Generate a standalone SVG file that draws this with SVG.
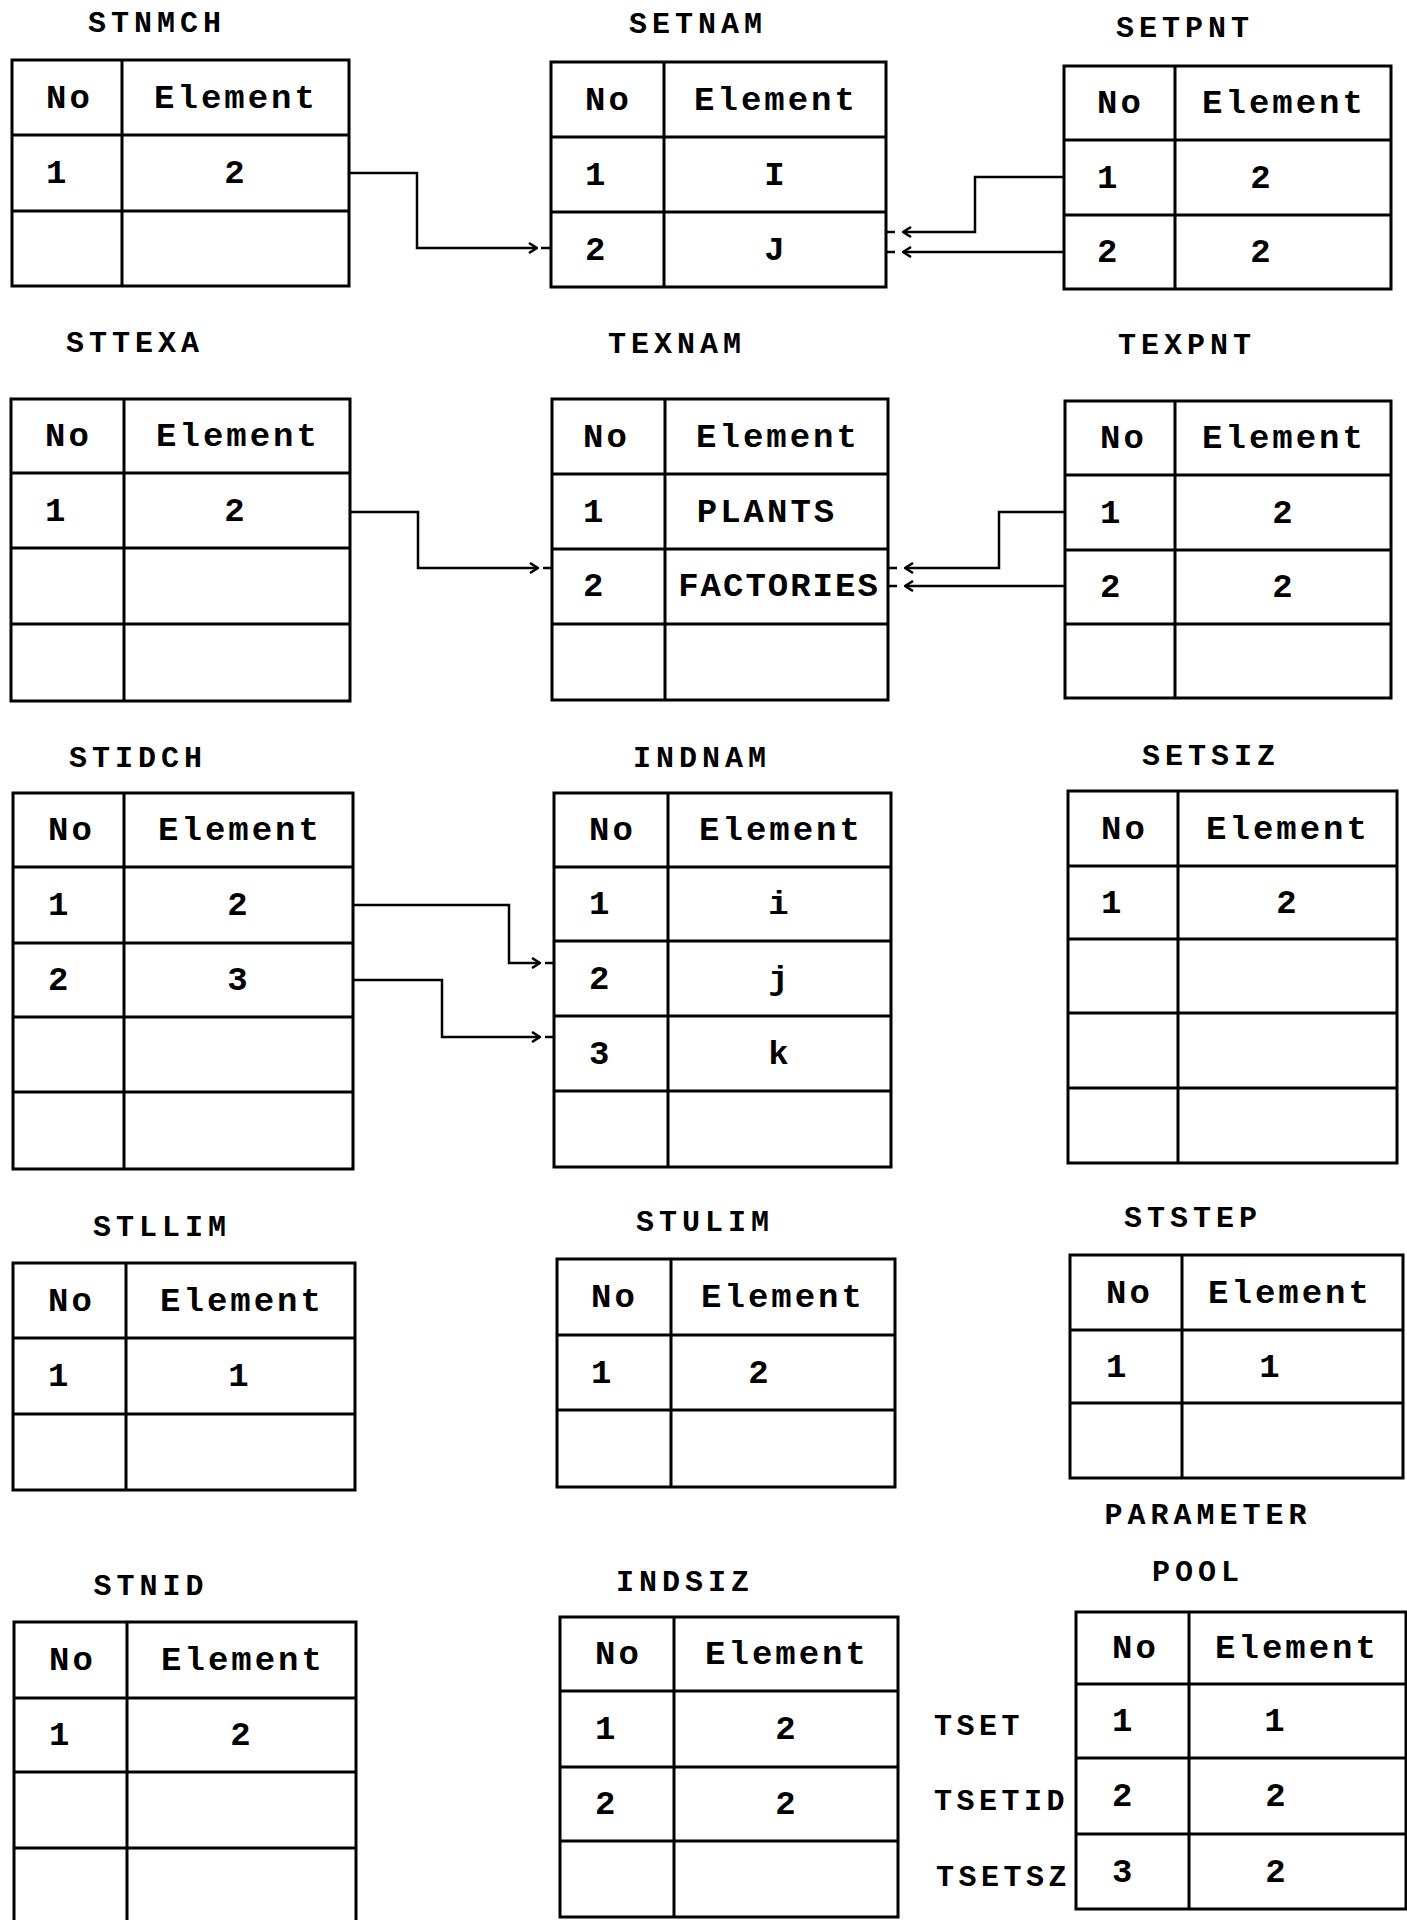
<svg xmlns="http://www.w3.org/2000/svg" width="1407" height="1920" viewBox="0 0 1407 1920">
<style>
.tb{fill:none;stroke:#000;stroke-width:3}
.t{font-family:"Liberation Mono","DejaVu Sans Mono",monospace;font-weight:bold;font-size:34px;letter-spacing:3px;fill:#000}
.m{text-anchor:middle}
.ttl{font-family:"Liberation Mono","DejaVu Sans Mono",monospace;font-weight:bold;font-size:30px;letter-spacing:5px;fill:#000;text-anchor:middle}
.cn{fill:none;stroke:#000;stroke-width:2.5}
</style>
<defs>
<marker id="ah" viewBox="0 0 10 12" refX="9" refY="6" markerWidth="10" markerHeight="12" markerUnits="userSpaceOnUse" orient="auto">
<path d="M1,1 L9,6 L1,11" fill="none" stroke="#000" stroke-width="2.5"/>
</marker>
</defs>
<rect width="1407" height="1920" fill="#fff"/>

<g id="STNMCH">
<text class="ttl" x="157" y="32">STNMCH</text>
<path class="tb" d="M12,60 H349 V286 H12 Z M122,60 V286 M12,135 H349 M12,211 H349"/>
<text class="t" x="46" y="108">No</text><text class="t m" x="236" y="108">Element</text>
<text class="t" x="46" y="183">1</text><text class="t m" x="236" y="183">2</text>
</g>

<g id="SETNAM">
<text class="ttl" x="698" y="33">SETNAM</text>
<path class="tb" d="M551,62 H886 V287 H551 Z M664,62 V287 M551,137 H886 M551,212 H886"/>
<text class="t" x="585" y="110">No</text><text class="t m" x="776" y="110">Element</text>
<text class="t" x="585" y="185">1</text><text class="t m" x="776" y="185">I</text>
<text class="t" x="585" y="260">2</text><text class="t m" x="776" y="260">J</text>
</g>

<g id="SETPNT">
<text class="ttl" x="1185" y="37">SETPNT</text>
<path class="tb" d="M1064,66 H1391 V289 H1064 Z M1175,66 V289 M1064,140 H1391 M1064,215 H1391"/>
<text class="t" x="1097" y="113">No</text><text class="t m" x="1284" y="113">Element</text>
<text class="t" x="1097" y="188">1</text><text class="t m" x="1262" y="188">2</text>
<text class="t" x="1097" y="262">2</text><text class="t m" x="1262" y="262">2</text>
</g>

<g id="STTEXA">
<text class="ttl" x="135" y="352">STTEXA</text>
<path class="tb" d="M11,399 H350 V701 H11 Z M124,399 V701 M11,473 H350 M11,548 H350 M11,624 H350"/>
<text class="t" x="45" y="446">No</text><text class="t m" x="238" y="446">Element</text>
<text class="t" x="45" y="521">1</text><text class="t m" x="236" y="521">2</text>
</g>

<g id="TEXNAM">
<text class="ttl" x="677" y="353">TEXNAM</text>
<path class="tb" d="M552,399 H888 V700 H552 Z M665,399 V700 M552,474 H888 M552,549 H888 M552,624 H888"/>
<text class="t" x="583" y="447">No</text><text class="t m" x="778" y="447">Element</text>
<text class="t" x="583" y="522">1</text><text class="t m" x="767" y="522">PLANTS</text>
<text class="t" x="583" y="596">2</text><text class="t m" x="779" y="596" style="letter-spacing:2px">FACTORIES</text>
</g>

<g id="TEXPNT">
<text class="ttl" x="1187" y="354">TEXPNT</text>
<path class="tb" d="M1065,401 H1391 V698 H1065 Z M1175,401 V698 M1065,475 H1391 M1065,550 H1391 M1065,624 H1391"/>
<text class="t" x="1100" y="448">No</text><text class="t m" x="1284" y="448">Element</text>
<text class="t" x="1100" y="523">1</text><text class="t m" x="1284" y="523">2</text>
<text class="t" x="1100" y="597">2</text><text class="t m" x="1284" y="597">2</text>
</g>

<g id="STIDCH">
<text class="ttl" x="138" y="767">STIDCH</text>
<path class="tb" d="M13,793 H353 V1169 H13 Z M124,793 V1169 M13,867 H353 M13,943 H353 M13,1017 H353 M13,1092 H353"/>
<text class="t" x="48" y="840">No</text><text class="t m" x="240" y="840">Element</text>
<text class="t" x="48" y="915">1</text><text class="t m" x="239" y="915">2</text>
<text class="t" x="48" y="990">2</text><text class="t m" x="239" y="990">3</text>
</g>

<g id="INDNAM">
<text class="ttl" x="702" y="767">INDNAM</text>
<path class="tb" d="M554,793 H891 V1167 H554 Z M668,793 V1167 M554,867 H891 M554,941 H891 M554,1016 H891 M554,1091 H891"/>
<text class="t" x="589" y="840">No</text><text class="t m" x="781" y="840">Element</text>
<text class="t" x="589" y="914">1</text><text class="t m" x="780" y="914">i</text>
<text class="t" x="589" y="989">2</text><text class="t m" x="780" y="989">j</text>
<text class="t" x="589" y="1064">3</text><text class="t m" x="780" y="1064">k</text>
</g>

<g id="SETSIZ">
<text class="ttl" x="1211" y="765">SETSIZ</text>
<path class="tb" d="M1068,791 H1397 V1163 H1068 Z M1178,791 V1163 M1068,866 H1397 M1068,939 H1397 M1068,1013 H1397 M1068,1088 H1397"/>
<text class="t" x="1101" y="839">No</text><text class="t m" x="1288" y="839">Element</text>
<text class="t" x="1101" y="913">1</text><text class="t m" x="1288" y="913">2</text>
</g>

<g id="STLLIM">
<text class="ttl" x="162" y="1236">STLLIM</text>
<path class="tb" d="M13,1263 H355 V1490 H13 Z M126,1263 V1490 M13,1338 H355 M13,1414 H355"/>
<text class="t" x="48" y="1311">No</text><text class="t m" x="242" y="1311">Element</text>
<text class="t" x="48" y="1386">1</text><text class="t m" x="240" y="1386">1</text>
</g>

<g id="STULIM">
<text class="ttl" x="705" y="1231">STULIM</text>
<path class="tb" d="M557,1259 H895 V1487 H557 Z M671,1259 V1487 M557,1335 H895 M557,1410 H895"/>
<text class="t" x="591" y="1307">No</text><text class="t m" x="783" y="1307">Element</text>
<text class="t" x="591" y="1383">1</text><text class="t m" x="760" y="1383">2</text>
</g>

<g id="STSTEP">
<text class="ttl" x="1193" y="1227">STSTEP</text>
<path class="tb" d="M1070,1255 H1403 V1478 H1070 Z M1182,1255 V1478 M1070,1330 H1403 M1070,1403 H1403"/>
<text class="t" x="1106" y="1303">No</text><text class="t m" x="1290" y="1303">Element</text>
<text class="t" x="1106" y="1377">1</text><text class="t m" x="1271" y="1377">1</text>
</g>

<g id="STNID">
<text class="ttl" x="151" y="1595">STNID</text>
<path class="tb" d="M14,1622 H356 V1924 H14 Z M127,1622 V1924 M14,1698 H356 M14,1772 H356 M14,1848 H356"/>
<text class="t" x="49" y="1670">No</text><text class="t m" x="243" y="1670">Element</text>
<text class="t" x="49" y="1745">1</text><text class="t m" x="242" y="1745">2</text>
</g>

<g id="INDSIZ">
<text class="ttl" x="685" y="1591">INDSIZ</text>
<path class="tb" d="M560,1617 H898 V1917 H560 Z M674,1617 V1917 M560,1691 H898 M560,1767 H898 M560,1841 H898"/>
<text class="t" x="595" y="1664">No</text><text class="t m" x="787" y="1664">Element</text>
<text class="t" x="595" y="1739">1</text><text class="t m" x="787" y="1739">2</text>
<text class="t" x="595" y="1814">2</text><text class="t m" x="787" y="1814">2</text>
</g>

<g id="POOL">
<text class="ttl" x="1208" y="1524">PARAMETER</text>
<text class="ttl" x="1198" y="1581">POOL</text>
<path class="tb" d="M1076,1612 H1406 V1909 H1076 Z M1189,1612 V1909 M1076,1684 H1406 M1076,1758 H1406 M1076,1834 H1406"/>
<text class="t" x="1112" y="1658">No</text><text class="t m" x="1297" y="1658">Element</text>
<text class="t" x="1112" y="1731">1</text><text class="t m" x="1276" y="1731">1</text>
<text class="t" x="1112" y="1806">2</text><text class="t m" x="1277" y="1806">2</text>
<text class="t" x="1112" y="1882">3</text><text class="t m" x="1277" y="1882">2</text>
<text class="ttl" x="934" y="1735" style="text-anchor:start;letter-spacing:4.5px">TSET</text>
<text class="ttl" x="934" y="1810" style="text-anchor:start;letter-spacing:4.5px">TSETID</text>
<text class="ttl" x="936" y="1886" style="text-anchor:start;letter-spacing:4.5px">TSETSZ</text>
</g>

<g id="connectors">
<path class="cn" d="M349,173 H417 V248 H537" marker-end="url(#ah)"/>
<path class="cn" d="M541,248 H551"/>
<path class="cn" d="M1064,177 H975 V232 H903" marker-end="url(#ah)"/>
<path class="cn" d="M895,232 H886"/>
<path class="cn" d="M1064,252 H903" marker-end="url(#ah)"/>
<path class="cn" d="M895,252 H886"/>
<path class="cn" d="M350,512 H418 V568 H538" marker-end="url(#ah)"/>
<path class="cn" d="M543,568 H552"/>
<path class="cn" d="M1065,512 H999 V568 H905" marker-end="url(#ah)"/>
<path class="cn" d="M897,568 H888"/>
<path class="cn" d="M1065,586 H905" marker-end="url(#ah)"/>
<path class="cn" d="M897,586 H888"/>
<path class="cn" d="M353,905 H509 V963 H540" marker-end="url(#ah)"/>
<path class="cn" d="M545,963 H554"/>
<path class="cn" d="M353,980 H442 V1037 H540" marker-end="url(#ah)"/>
<path class="cn" d="M545,1037 H554"/>
</g>
</svg>
